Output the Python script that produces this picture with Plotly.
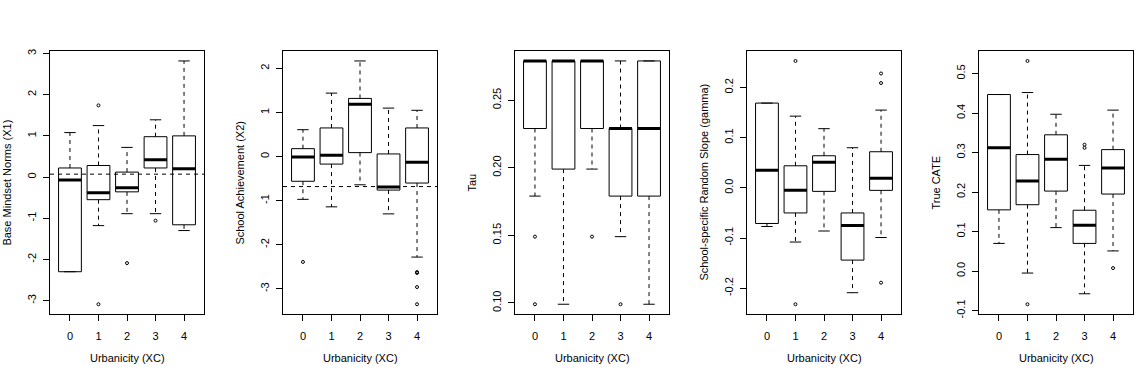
import plotly.graph_objects as go

# ---------------- data ----------------
categories = ["0", "1", "2", "3", "4"]
x_title = "Urbanicity (XC)"

# Panel 1: Base Mindset Norms (X1)
p1_title = "Base Mindset Norms (X1)"
p1_low = [-2.30, -1.18, -0.89, -0.89, -1.30]
p1_q1 = [-2.30, -0.55, -0.36, 0.22, -1.16]
p1_med = [-0.07, -0.38, -0.26, 0.42, 0.20]
p1_q3 = [0.22, 0.28, 0.12, 0.98, 1.00]
p1_high = [1.08, 1.25, 0.72, 1.39, 2.82]
p1_out_x = [1, 1, 2, 3]
p1_out_y = [1.74, -3.09, -2.09, -1.06]
p1_ref = 0.07
p1_ticks = [-3, -2, -1, 0, 1, 2, 3]
p1_ticktext = ["-3", "-2", "-1", "0", "1", "2", "3"]

# Panel 2: School Achievement (X2)
p2_title = "School Achievement (X2)"
p2_low = [-0.97, -1.14, -0.64, -1.30, -2.28]
p2_q1 = [-0.56, -0.17, 0.09, -0.76, -0.60]
p2_med = [-0.01, 0.03, 1.19, -0.69, -0.13]
p2_q3 = [0.18, 0.65, 1.32, 0.06, 0.65]
p2_high = [0.61, 1.44, 2.17, 1.10, 1.05]
p2_out_x = [0, 4, 4, 4, 4]
p2_out_y = [-2.39, -2.62, -2.64, -2.96, -3.35]
p2_ref = -0.68
p2_ticks = [-3, -2, -1, 0, 1, 2]
p2_ticktext = ["-3", "-2", "-1", "0", "1", "2"]

# Panel 3: Tau
p3_title = "Tau"
p3_low = [0.179, 0.099, 0.199, 0.149, 0.099]
p3_q1 = [0.229, 0.199, 0.229, 0.179, 0.179]
p3_med = [0.279, 0.279, 0.279, 0.229, 0.229]
p3_q3 = [0.279, 0.279, 0.279, 0.229, 0.279]
p3_high = [0.279, 0.279, 0.279, 0.279, 0.279]
p3_out_x = [0, 0, 2, 3]
p3_out_y = [0.149, 0.099, 0.149, 0.099]
p3_ref = None
p3_ticks = [0.10, 0.15, 0.20, 0.25]
p3_ticktext = ["0.10", "0.15", "0.20", "0.25"]

# Panel 4: School-specific Random Slope (gamma)
p4_title = "School-specific Random Slope (gamma)"
p4_low = [-0.077, -0.108, -0.086, -0.209, -0.099]
p4_q1 = [-0.071, -0.050, -0.007, -0.144, -0.005]
p4_med = [0.035, -0.005, 0.051, -0.075, 0.019]
p4_q3 = [0.169, 0.044, 0.064, -0.050, 0.072]
p4_high = [0.169, 0.143, 0.118, 0.080, 0.155]
p4_out_x = [1, 1, 4, 4, 4]
p4_out_y = [0.253, -0.232, 0.228, 0.209, -0.189]
p4_ref = None
p4_ticks = [-0.2, -0.1, 0.0, 0.1, 0.2]
p4_ticktext = ["-0.2", "-0.1", "0.0", "0.1", "0.2"]

# Panel 5: True CATE
p5_title = "True CATE"
p5_low = [0.070, -0.005, 0.110, -0.0575, 0.051]
p5_q1 = [0.155, 0.168, 0.2025, 0.070, 0.195]
p5_med = [0.3125, 0.228, 0.283, 0.116, 0.261]
p5_q3 = [0.447, 0.295, 0.345, 0.154, 0.3075]
p5_high = [0.447, 0.452, 0.397, 0.2675, 0.4075]
p5_out_x = [1, 1, 3, 3, 4]
p5_out_y = [0.532, -0.084, 0.320, 0.312, 0.0075]
p5_ref = None
p5_ticks = [-0.1, 0.0, 0.1, 0.2, 0.3, 0.4, 0.5]
p5_ticktext = ["-0.1", "0.0", "0.1", "0.2", "0.3", "0.4", "0.5"]

panels = [
    (p1_title, p1_low, p1_q1, p1_med, p1_q3, p1_high, p1_out_x, p1_out_y, p1_ref, p1_ticks, p1_ticktext),
    (p2_title, p2_low, p2_q1, p2_med, p2_q3, p2_high, p2_out_x, p2_out_y, p2_ref, p2_ticks, p2_ticktext),
    (p3_title, p3_low, p3_q1, p3_med, p3_q3, p3_high, p3_out_x, p3_out_y, p3_ref, p3_ticks, p3_ticktext),
    (p4_title, p4_low, p4_q1, p4_med, p4_q3, p4_high, p4_out_x, p4_out_y, p4_ref, p4_ticks, p4_ticktext),
    (p5_title, p5_low, p5_q1, p5_med, p5_q3, p5_high, p5_out_x, p5_out_y, p5_ref, p5_ticks, p5_ticktext),
]

# ---------------- layout geometry ----------------
W, H = 1146, 379
panel_left = [50, 283, 515, 747, 979]
panel_w = 154
plot_top, plot_bot = 50, 317
FONT = dict(family="Liberation Sans, Arial, sans-serif", size=11, color="black")
BOXHALF = 0.4
CAPHALF = 0.2

fig = go.Figure()
annotations = []
shapes = []

for i, (title, low, q1, med, q3, high, ox, oy, ref, tv, tt) in enumerate(panels):
    n = i + 1
    xa = "x" if n == 1 else f"x{n}"
    ya = "y" if n == 1 else f"y{n}"
    pos = list(range(len(categories)))

    # whiskers (dashed)
    wx, wy = [], []
    for p, a, b, c, d in zip(pos, low, q1, q3, high):
        wx += [p, p, None, p, p, None]
        wy += [c, d, None, b, a, None]
    fig.add_trace(go.Scatter(x=wx, y=wy, mode="lines", xaxis=xa, yaxis=ya,
                             line=dict(color="black", width=1, dash="4px,4px"),
                             hoverinfo="skip", showlegend=False))
    # staples
    sx, sy = [], []
    for p, a, d in zip(pos, low, high):
        sx += [p - CAPHALF, p + CAPHALF, None, p - CAPHALF, p + CAPHALF, None]
        sy += [d, d, None, a, a, None]
    fig.add_trace(go.Scatter(x=sx, y=sy, mode="lines", xaxis=xa, yaxis=ya,
                             line=dict(color="black", width=1),
                             hoverinfo="skip", showlegend=False))
    # boxes
    bx, by = [], []
    for p, b, c in zip(pos, q1, q3):
        bx += [p - BOXHALF, p + BOXHALF, p + BOXHALF, p - BOXHALF, p - BOXHALF, None]
        by += [b, b, c, c, b, None]
    fig.add_trace(go.Scatter(x=bx, y=by, mode="lines", xaxis=xa, yaxis=ya,
                             line=dict(color="black", width=1),
                             hoverinfo="skip", showlegend=False))
    # medians
    mx, my = [], []
    for p, m in zip(pos, med):
        mx += [p - BOXHALF, p + BOXHALF, None]
        my += [m, m, None]
    fig.add_trace(go.Scatter(x=mx, y=my, mode="lines", xaxis=xa, yaxis=ya,
                             line=dict(color="black", width=3),
                             hoverinfo="skip", showlegend=False))
    # outliers
    fig.add_trace(go.Scatter(x=ox, y=oy, mode="markers", xaxis=xa, yaxis=ya,
                             marker=dict(symbol="circle-open", size=3, color="black",
                                         line=dict(width=1, color="black")),
                             hoverinfo="skip", showlegend=False))

    # reference line
    if ref is not None:
        shapes.append(dict(type="line", xref=f"{xa} domain", yref=ya, x0=0, x1=1,
                           y0=ref, y1=ref, line=dict(color="black", width=1, dash="4px,4px")))

    # y range with R-style 4% extension
    allv = low + high + oy
    lo_, hi_ = min(allv), max(allv)
    ext = 0.04 * (hi_ - lo_)

    x0 = panel_left[i] / W
    x1 = (panel_left[i] + panel_w) / W
    y0 = (H - plot_bot) / H
    y1 = (H - plot_top) / H

    xkey = "xaxis" if n == 1 else f"xaxis{n}"
    ykey = "yaxis" if n == 1 else f"yaxis{n}"
    fig.layout[xkey] = dict(domain=[x0, x1], anchor=ya, range=[-0.7, 4.7],
                            tickmode="array", tickvals=pos, ticktext=categories,
                            ticks="outside", ticklen=6, tickwidth=1, tickcolor="black",
                            showline=True, mirror=True, linecolor="black", linewidth=1,
                            showgrid=False, zeroline=False, tickfont=FONT,
                            ticklabelstandoff=6, fixedrange=True)
    fig.layout[ykey] = dict(domain=[y0, y1], anchor=xa, range=[lo_ - ext, hi_ + ext],
                            tickmode="array", tickvals=tv, ticktext=tt, tickangle=-90,
                            ticks="outside", ticklen=6, tickwidth=1, tickcolor="black",
                            showline=True, mirror=True, linecolor="black", linewidth=1,
                            showgrid=False, zeroline=False, tickfont=FONT,
                            ticklabelstandoff=3, fixedrange=True)

    # axis titles
    annotations.append(dict(text=x_title, xref="paper", yref="paper",
                            x=(panel_left[i] + panel_w / 2) / W, y=(H - 362) / H,
                            showarrow=False, font=FONT, xanchor="center", yanchor="middle"))
    annotations.append(dict(text=title, xref="paper", yref="paper",
                            x=(panel_left[i] - 43) / W, y=(H - (plot_top + plot_bot) / 2) / H,
                            showarrow=False, font=FONT, textangle=-90,
                            xanchor="center", yanchor="middle"))

fig.update_layout(width=W, height=H, margin=dict(l=0, r=0, t=0, b=0),
                  paper_bgcolor="white", plot_bgcolor="white",
                  annotations=annotations, shapes=shapes, showlegend=False)

fig.write_html("out.html", include_plotlyjs=True, config={"displayModeBar": False})
